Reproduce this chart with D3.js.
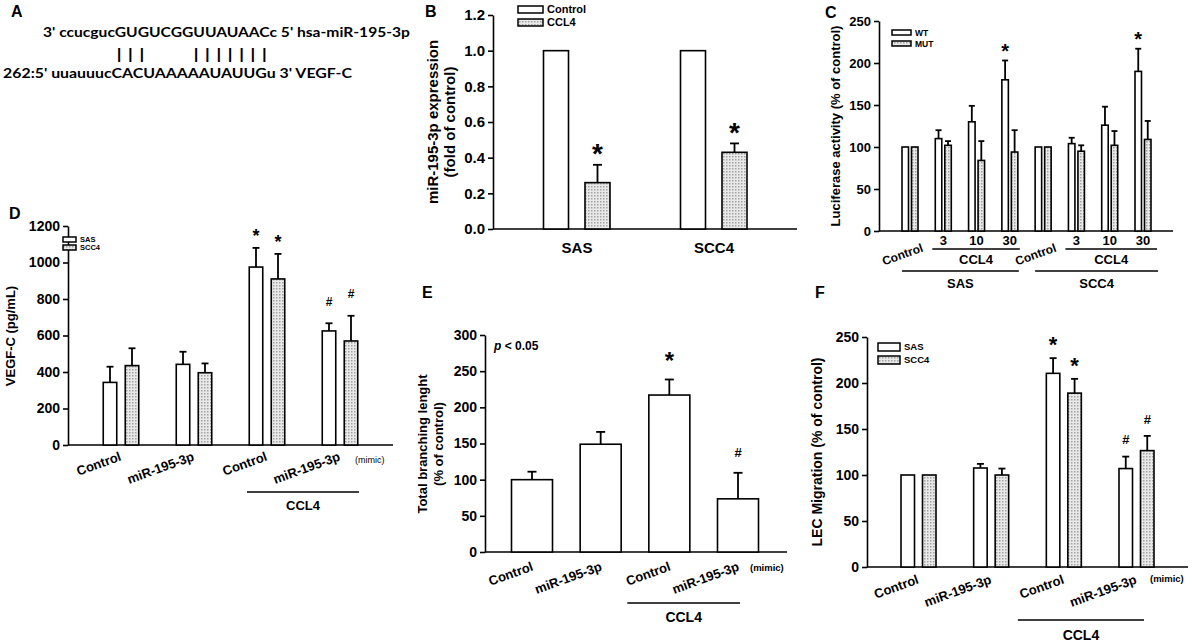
<!DOCTYPE html>
<html>
<head>
<meta charset="utf-8">
<script src="https://cdn.jsdelivr.net/npm/d3@7"></script>
<style>
  body { margin: 0; background: #fff; }
  svg { display: block; }
</style>
</head>
<body>
<svg width="1196" height="644"></svg>
<script>
// ---------- data ----------
// A: sequence alignment
var mirSeq = "3' ccucgucGUGUCGGUUAUAACc 5' hsa-miR-195-3p";
var utrSeq = "262:5' uuauuucCACUAAAAAUAUUGu 3' VEGF-C";
var pairMarks = ["| | |", "| | | | | | |"];

// B: miR-195-3p expression
var bGroups = ["SAS", "SCC4"];
var bSeries = ["Control", "CCL4"];
var bControl = [1.0, 1.0];
var bCCL4 = [0.26, 0.43];
var bCCL4Err = [0.10, 0.05];
var bMarks = [["", ""], ["*", "*"]];
var bTicks = [0, 0.2, 0.4, 0.6, 0.8, 1.0, 1.2];

// C: luciferase activity
var cGroups = ["Control", "3", "10", "30", "Control", "3", "10", "30"];
var cCells = ["SAS", "SCC4"];
var cSeries = ["WT", "MUT"];
var cWT = [100, 110, 130, 180, 100, 104, 126, 190];
var cWTErr = [0, 10, 19, 23, 0, 7, 22, 27];
var cMUT = [100, 102, 84, 94, 100, 95, 102, 109];
var cMUTErr = [0, 5, 23, 26, 0, 7, 17, 22];
var cMarks = [["", "", "", "*", "", "", "", "*"], ["", "", "", "", "", "", "", ""]];
var cTicks = [0, 50, 100, 150, 200, 250];

// shared treatment labels for D, E, F
var treatLabels = ["Control", "miR-195-3p", "Control", "miR-195-3p"];

// D: VEGF-C
var dSeries = ["SAS", "SCC4"];
var dSAS = [343, 442, 975, 625];
var dSASErr = [86, 69, 105, 42];
var dSCC4 = [435, 396, 910, 570];
var dSCC4Err = [95, 51, 137, 138];
var dMarks = [["", "", "*", "#"], ["", "", "*", "#"]];
var dTicks = [0, 200, 400, 600, 800, 1000, 1200];

// E: total branching length
var eValues = [100, 149, 217, 73.5];
var eErr = [11, 17, 21.5, 36];
var eMarks = ["", "", "*", "#"];
var eTicks = [0, 50, 100, 150, 200, 250, 300];

// F: LEC migration
var fSeries = ["SAS", "SCC4"];
var fSAS = [100, 107.6, 210.5, 107];
var fSASErr = [0, 4.5, 16.5, 13];
var fSCC4 = [100, 100, 189, 126.5];
var fSCC4Err = [0, 7, 15.5, 16];
var fMarks = [["", "", "*", "#"], ["", "", "*", "#"]];
var fTicks = [0, 50, 100, 150, 200, 250];

// ---------- setup ----------
var FONT = "'Liberation Sans', Arial, sans-serif";
var svg = d3.select("svg").attr("font-family", FONT).attr("font-weight", "bold");

var pat = svg.append("defs").append("pattern").attr("id", "dots")
  .attr("patternUnits", "userSpaceOnUse").attr("width", 3).attr("height", 3);
pat.append("rect").attr("width", 3).attr("height", 3).attr("fill", "#e9e9e9");
pat.append("rect").attr("width", 1.5).attr("height", 1.5).attr("fill", "#a2a2a2");
var fills = ["#ffffff", "url(#dots)"];

function toRows(values, errors, marks) {
  var out = [];
  values.forEach(function(ser, s) {
    ser.forEach(function(v, i) {
      out.push({ g: i, s: s, v: v, e: errors[s][i], m: marks[s][i] });
    });
  });
  return out;
}

function panel(c) {
  var g = svg.append("g");
  var y = d3.scaleLinear().domain([0, c.max]).range([c.y0, c.y1]);
  var gx = d3.scalePoint().domain(d3.range(c.nGroups)).range(c.groups);
  var sx = d3.scalePoint().domain(d3.range(c.nSeries)).range(c.series);
  var cx = function(d) { return gx(d.g) + sx(d.s); };

  var ax = g.append("g").attr("transform", "translate(" + c.axisX[0] + ",0)")
    .call(d3.axisLeft(y).tickValues(c.ticks).tickFormat(d3.format(c.fmt)).tickSize(5).tickSizeOuter(0));
  ax.attr("font-family", FONT).attr("font-size", c.tickFs).attr("font-weight", "bold");
  ax.selectAll("path, line").attr("stroke-width", 1.6);

  g.append("line")
    .attr("x1", c.axisX[0]).attr("x2", c.axisX[1])
    .attr("y1", y(0)).attr("y2", y(0))
    .attr("stroke", "#000").attr("stroke-width", 1.6);

  g.selectAll("rect.bar").data(c.rows).enter().append("rect").attr("class", "bar")
    .attr("x", function(d) { return cx(d) - c.bw / 2; })
    .attr("y", function(d) { return y(d.v); })
    .attr("width", c.bw)
    .attr("height", function(d) { return y(0) - y(d.v); })
    .attr("fill", function(d) { return fills[d.s]; })
    .attr("stroke", "#000").attr("stroke-width", 1.6);

  var withErr = c.rows.filter(function(d) { return d.e > 0; });
  g.selectAll("line.err").data(withErr).enter().append("line").attr("class", "err")
    .attr("x1", cx).attr("x2", cx)
    .attr("y1", function(d) { return y(d.v); })
    .attr("y2", function(d) { return y(d.v + d.e); })
    .attr("stroke", "#000").attr("stroke-width", 1.8);
  g.selectAll("line.cap").data(withErr).enter().append("line").attr("class", "cap")
    .attr("x1", function(d) { return cx(d) - c.cap / 2; })
    .attr("x2", function(d) { return cx(d) + c.cap / 2; })
    .attr("y1", function(d) { return y(d.v + d.e); })
    .attr("y2", function(d) { return y(d.v + d.e); })
    .attr("stroke", "#000").attr("stroke-width", 1.8);

  g.selectAll("text.mark").data(c.rows.filter(function(d) { return d.m; })).enter()
    .append("text").attr("class", "mark")
    .attr("x", cx).attr("text-anchor", "middle")
    .attr("font-size", function(d) { return d.m === "*" ? c.starFs : c.hashFs; })
    .attr("y", function(d) {
      var top = y(d.v + d.e);
      return d.m === "*" ? top - c.starGap + 0.58 * c.starFs : top - c.hashGap + 0.36 * c.hashFs;
    })
    .text(function(d) { return d.m; });

  return { g: g, y: y, gx: gx };
}

function yTitle(lines, xs, cy, fs) {
  lines.forEach(function(t, i) {
    svg.append("text").attr("text-anchor", "middle").attr("font-size", fs)
      .attr("transform", "translate(" + xs[i] + "," + cy + ") rotate(-90)")
      .text(t);
  });
}

function legend(names, x, y, step, w, h, fs) {
  var lg = svg.append("g");
  names.forEach(function(n, i) {
    lg.append("rect").attr("x", x).attr("y", y + i * step).attr("width", w).attr("height", h)
      .attr("fill", fills[i]).attr("stroke", "#000").attr("stroke-width", 1.5);
    lg.append("text").attr("x", x + w + 4).attr("y", y + i * step + h / 2 + fs * 0.36)
      .attr("font-size", fs).text(n);
  });
}

function rotLabels(p, labels, keep, dx, dy, fs, angle) {
  labels.forEach(function(t, i) {
    if (!keep(t)) return;
    p.g.append("text").attr("text-anchor", "end").attr("font-size", fs)
      .attr("transform", "translate(" + (p.gx(i) + dx) + "," + (p.y(0) + dy) + ") rotate(" + angle + ")")
      .text(t);
  });
}

function bracket(p, i0, i1, pad0, pad1, dy, label, tdy, fs) {
  var x0 = p.gx(i0) - pad0, x1 = p.gx(i1) + pad1, yy = p.y(0) + dy;
  p.g.append("line").attr("x1", x0).attr("x2", x1).attr("y1", yy).attr("y2", yy)
    .attr("stroke", "#000").attr("stroke-width", 1.6);
  p.g.append("text").attr("x", (x0 + x1) / 2).attr("y", yy + tdy)
    .attr("text-anchor", "middle").attr("font-size", fs).text(label);
}

function letter(t, x, y) {
  svg.append("text").attr("x", x).attr("y", y).attr("font-size", 16).text(t);
}

// ---------- A ----------
letter("A", 11, 17);
var aG = svg.append("g").attr("font-family", "Lato, 'Open Sans', sans-serif").attr("font-size", 14);
aG.append("text").attr("x", 43).attr("y", 37).attr("textLength", 367)
  .attr("lengthAdjust", "spacingAndGlyphs").text(mirSeq);
aG.append("text").attr("x", 3).attr("y", 78).attr("textLength", 349)
  .attr("lengthAdjust", "spacingAndGlyphs").text(utrSeq);
aG.selectAll("text.pair").data(pairMarks).enter().append("text").attr("class", "pair")
  .attr("font-family", FONT).attr("font-size", 15)
  .attr("letter-spacing", 1.5)
  .attr("x", function(d, i) { return i === 0 ? 117 : 194; })
  .attr("y", 59)
  .text(function(d) { return d; });

// ---------- B ----------
letter("B", 425, 17);
var bP = panel({
  rows: toRows([bControl, bCCL4], [[0, 0], bCCL4Err], bMarks),
  max: 1.2, y0: 229, y1: 15, ticks: bTicks, fmt: ".1f", tickFs: 15,
  axisX: [493, 797], nGroups: 2, groups: [577, 714], nSeries: 2, series: [-21, 20.5],
  bw: 25, cap: 9, starFs: 28, starGap: 18, hashFs: 14, hashGap: 18
});
bGroups.forEach(function(t, i) {
  bP.g.append("text").attr("x", bP.gx(i)).attr("y", 253).attr("text-anchor", "middle")
    .attr("font-size", 15).text(t);
});
yTitle(["miR-195-3p expression", "(fold of control)"], [438, 455], 122, 15);
legend(bSeries, 518, 6, 13, 25, 7, 11);

// ---------- C ----------
letter("C", 825, 18);
var cP = panel({
  rows: toRows([cWT, cMUT], [cWTErr, cMUTErr], cMarks),
  max: 250, y0: 231, y1: 21, ticks: cTicks, fmt: "d", tickFs: 13,
  axisX: [879, 1173], nGroups: 8, groups: [910, 1143], nSeries: 2, series: [-4.75, 4.75],
  bw: 6.5, cap: 6, starFs: 20, starGap: 14, hashFs: 12, hashGap: 14
});
rotLabels(cP, cGroups, function(t) { return t === "Control"; }, 14, 20, 12, -20);
cGroups.forEach(function(t, i) {
  if (t === "Control") return;
  cP.g.append("text").attr("x", cP.gx(i)).attr("y", cP.y(0) + 14).attr("text-anchor", "middle")
    .attr("font-size", 13).text(t);
});
bracket(cP, 1, 3, 11, 10, 18, "CCL4", 15, 13);
bracket(cP, 5, 7, 11, 14, 18, "CCL4", 15, 13);
bracket(cP, 0, 3, 8, 9, 40, cCells[0], 17, 13);
bracket(cP, 4, 7, 8, 15, 40, cCells[1], 17, 13);
yTitle(["Luciferase activity (% of control)"], [840], 126, 13);
legend(cSeries, 892, 30, 11, 19, 5, 8.5);

// ---------- D ----------
letter("D", 9, 219);
var dP = panel({
  rows: toRows([dSAS, dSCC4], [dSASErr, dSCC4Err], dMarks),
  max: 1200, y0: 445, y1: 226, ticks: dTicks, fmt: "d", tickFs: 14,
  axisX: [68, 393], nGroups: 4, groups: [121, 340], nSeries: 2, series: [-11, 11],
  bw: 13.5, cap: 7, starFs: 18, starGap: 16, hashFs: 12, hashGap: 22
});
rotLabels(dP, treatLabels, function() { return true; }, 1, 15, 13, -20);
bracket(dP, 2, 3, 20, 19, 47, "CCL4", 18, 13);
dP.g.append("text").attr("x", 355).attr("y", 463).attr("font-size", 9).attr("font-weight", "normal").text("(mimic)");
yTitle(["VEGF-C (pg/mL)"], [14.5], 336, 13);
legend(dSeries, 63, 237, 8, 13, 5, 7.5);

// ---------- E ----------
letter("E", 422, 298);
var eP = panel({
  rows: toRows([eValues], [eErr], [eMarks]),
  max: 300, y0: 552, y1: 335, ticks: eTicks, fmt: "d", tickFs: 14,
  axisX: [485, 787], nGroups: 4, groups: [532, 738], nSeries: 1, series: [0, 0],
  bw: 41, cap: 9, starFs: 24, starGap: 24, hashFs: 13, hashGap: 20
});
rotLabels(eP, treatLabels, function() { return true; }, 2, 18, 13, -20);
bracket(eP, 2, 3, 42, 2, 51, "CCL4", 19, 14);
eP.g.append("text").attr("x", 750).attr("y", 571).attr("font-size", 9.5).text("(mimic)");
var pt = eP.g.append("text").attr("x", 494).attr("y", 350).attr("font-size", 12);
pt.append("tspan").attr("font-style", "italic").text("p");
pt.append("tspan").text(" < 0.05");
yTitle(["Total branching lenght", "(% of control)"], [426.5, 442.5], 444, 13);

// ---------- F ----------
letter("F", 815, 298);
var fP = panel({
  rows: toRows([fSAS, fSCC4], [fSASErr, fSCC4Err], fMarks),
  max: 250, y0: 567, y1: 337, ticks: fTicks, fmt: "d", tickFs: 14,
  axisX: [867, 1188], nGroups: 4, groups: [918.5, 1136.5], nSeries: 2, series: [-10.75, 10.75],
  bw: 13.5, cap: 7, starFs: 22, starGap: 19, hashFs: 13, hashGap: 17
});
rotLabels(fP, treatLabels, function() { return true; }, 1, 16, 13, -20);
bracket(fP, 2, 3, 46, 7.5, 53, "CCL4", 20, 14);
fP.g.append("text").attr("x", 1150).attr("y", 582).attr("font-size", 9.5).text("(mimic)");
yTitle(["LEC Migration (% of control)"], [822], 452, 14);
legend(fSeries, 878, 343, 13, 22, 8, 9.5);
</script>
</body>
</html>
